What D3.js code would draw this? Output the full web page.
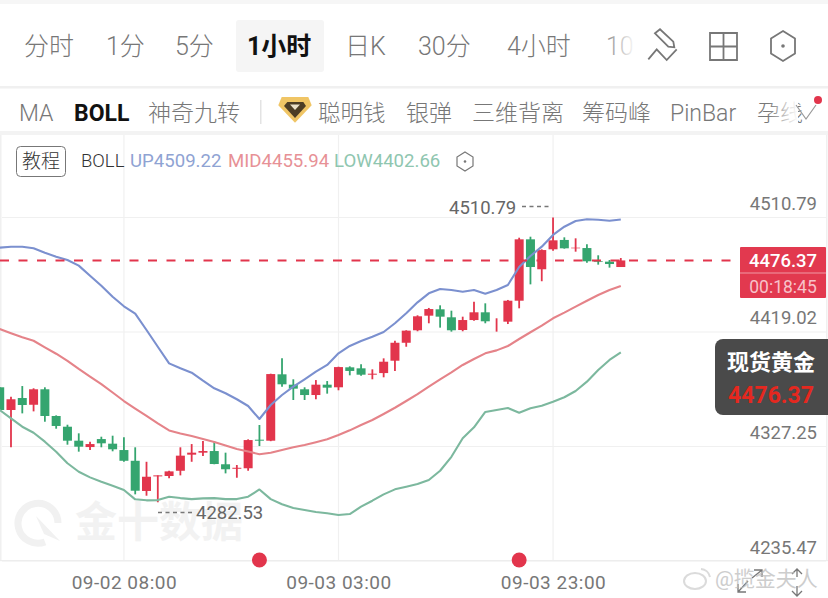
<!DOCTYPE html>
<html><head><meta charset="utf-8">
<script src="https://cdnjs.cloudflare.com/ajax/libs/d3/7.8.5/d3.min.js"></script>
<style>
html,body{margin:0;padding:0;background:#fff;overflow:hidden}
text{font-family:Roboto,"Noto Sans CJK SC",sans-serif}
</style></head><body><svg id="c" width="828" height="598"></svg>
<script>
const opens=[4374.7,4356.5,4366.1,4360.7,4373.1,4351.7,4343.1,4331.9,4326.8,4333.2,4329.5,4324.4,4315.8,4291.6,4303.3,4303.6,4307.8,4320.7,4322.3,4323.6,4313.0,4309.4,4309.8,4332.7,4331.9,4385.1,4376.8,4373.1,4368.5,4376.8,4374.7,4390.7,4389.9,4384.8,4386.1,4396.0,4410.4,4420.4,4432.1,4437.2,4430.8,4420.6,4428.6,4434.8,4425.0,4427.3,4444.1,4493.3,4469.3,4485.3,4492.8,4486.1,4486.3,4475.7,4475.4,4471.1];
const highs=[4374.9,4367.1,4375.7,4373.9,4374.7,4352.2,4344.7,4337.8,4331.1,4335.1,4335.9,4334.6,4326.6,4315.0,4304.1,4307.8,4326.6,4329.2,4331.6,4331.6,4322.3,4312.4,4333.0,4344.5,4385.6,4397.9,4381.1,4374.7,4380.5,4379.7,4391.2,4391.5,4393.1,4389.1,4397.9,4412.0,4420.4,4432.4,4438.3,4440.4,4436.1,4431.3,4443.3,4442.0,4430.0,4444.7,4494.6,4495.4,4485.3,4510.79,4494.9,4494.1,4489.3,4480.5,4476.7,4478.3];
const lows=[4356.5,4326.6,4353.8,4355.4,4347.1,4341.5,4328.7,4323.1,4324.4,4326.6,4323.4,4315.0,4288.9,4287.8,4282.53,4301.7,4304.1,4315.0,4319.6,4313.0,4305.7,4302.2,4307.8,4327.6,4331.5,4375.2,4364.5,4364.5,4365.1,4369.6,4372.3,4384.3,4384.0,4381.1,4382.7,4387.8,4407.2,4419.6,4426.0,4422.5,4419.3,4419.6,4428.1,4426.0,4419.3,4425.4,4438.0,4457.2,4459.7,4484.2,4485.8,4483.4,4474.6,4473.0,4470.6,4471.1];
const closes=[4356.5,4365.1,4360.5,4373.1,4351.7,4343.7,4331.9,4327.1,4329.2,4329.8,4325.0,4315.8,4291.8,4303.0,4304.1,4307.3,4319.9,4322.3,4323.6,4313.2,4309.0,4310.2,4332.4,4331.9,4385.3,4377.1,4373.6,4368.5,4376.8,4374.4,4390.9,4387.8,4384.8,4385.6,4395.2,4410.4,4420.1,4431.6,4437.4,4431.3,4420.4,4428.6,4434.8,4427.6,4425.0,4444.1,4493.3,4471.1,4484.7,4492.5,4486.1,4486.6,4475.7,4475.1,4473.5,4476.37];
const bollUp=[4486.6,4487.4,4487.4,4486.1,4482.6,4479.4,4476.7,4472.2,4464.1,4456.1,4447.3,4439.6,4433.7,4420.6,4407.2,4393.9,4389.9,4386.4,4380.0,4373.9,4369.9,4365.1,4359.7,4349.3,4360.5,4368.5,4375.2,4381.1,4387.2,4392.6,4401.9,4407.8,4411.8,4415.2,4419.0,4426.0,4434.0,4442.8,4450.0,4453.5,4452.7,4451.3,4452.7,4449.7,4452.7,4456.7,4471.1,4479.9,4487.4,4496.8,4503.4,4508.0,4509.4,4509.0,4508.2,4509.22];
const bollMid=[4421.4,4418.0,4414.8,4412.0,4406.7,4401.6,4395.8,4389.4,4383.3,4377.3,4370.5,4363.7,4357.7,4351.7,4345.7,4340.1,4337.7,4335.6,4333.2,4330.8,4328.0,4325.2,4323.2,4321.0,4322.3,4324.4,4326.6,4328.4,4330.6,4333.0,4336.4,4340.2,4344.5,4348.5,4353.3,4358.3,4363.7,4369.3,4375.2,4381.1,4386.7,4392.6,4397.4,4401.9,4404.3,4407.8,4413.4,4418.8,4424.1,4430.0,4434.5,4439.3,4444.1,4448.7,4452.7,4455.94];
const bollLow=[4356.5,4349.8,4343.1,4338.3,4331.1,4323.1,4313.8,4307.0,4302.5,4299.0,4295.8,4292.4,4284.9,4284.1,4284.3,4287.0,4285.9,4285.1,4285.7,4285.9,4285.1,4285.1,4287.0,4292.8,4285.1,4280.9,4277.9,4276.3,4274.7,4273.7,4272.3,4273.1,4279.0,4283.8,4288.9,4292.9,4295.0,4297.2,4300.4,4307.8,4319.0,4333.8,4342.6,4354.9,4356.5,4358.1,4354.3,4357.9,4359.9,4363.1,4366.7,4371.7,4379.2,4388.6,4396.6,4402.66];
const priceTicks=[4510.79,4419.02,4327.25,4235.47];
const timeIdx=[11,30,49];
const timeLabels=["09-02 08:00","09-03 03:00","09-03 23:00"];
const markerIdx=[23,46];
const lastPrice=4476.37, maxPrice=4510.79, minPrice=4282.53;
const tabs=["分时","1分","5分","1小时","日K","30分","4小时","10"];
const tabX=[24,106,175,247,345,418,507,606];
const indicators=["MA","BOLL","神奇九转","聪明钱","银弹","三维背离","筹码峰","PinBar","孕线"];
const indicatorX=[19,74,148,318,406,472,582,670,757];

const svg=d3.select("#c");
const defs=svg.append("defs");
const grad=defs.append("linearGradient").attr("id","fade");
grad.append("stop").attr("offset","0").attr("stop-color","#fff").attr("stop-opacity",0);
grad.append("stop").attr("offset","1").attr("stop-color","#fff").attr("stop-opacity",1);

const x=d3.scaleLinear().domain([0,55]).range([-0.3,620.8]);
const y=d3.scaleLinear().domain([4235.47,4510.79]).range([561,217.5]);

// page chrome
svg.append("rect").attr("width",828).attr("height",4).attr("fill","#f6f6f6");
svg.append("rect").attr("x",236).attr("y",20).attr("width",88).attr("height",52).attr("rx",3).attr("fill","#f5f5f5");
svg.append("g").selectAll("text").data(tabs).join("text")
  .attr("x",(d,i)=>tabX[i]).attr("y",55).attr("font-size",25)
  .attr("font-weight",(d,i)=>i===3?700:300)
  .attr("fill",(d,i)=>i===3?"#111":"#777").text(d=>d);
svg.append("rect").attr("x",600).attr("y",25).attr("width",36).attr("height",42).attr("fill","url(#fade)");
const ic=svg.append("g").attr("fill","none").attr("stroke","#777").attr("stroke-width",1.8);
ic.append("path").attr("d","M655 33.300 L660 29.300 L673.300 41.700 L674.300 47.300 L668.300 46.700 Z M648.300 59.300 L656.700 49.300 L666.700 60 L676.700 49.300");
ic.append("path").attr("d","M710 33 H737 V60 H710 Z M723.500 33 V60 M710 46.500 H737");
ic.append("path").attr("d","M783 31 L795 38.500 V53.500 L783 61 L771 53.500 V38.500 Z");
svg.append("circle").attr("cx",783).attr("cy",46).attr("r",1.8).attr("fill","#777");
svg.append("rect").attr("y",86).attr("width",828).attr("height",2.5).attr("fill","#f0f0f0");
svg.append("rect").attr("y",131).attr("width",828).attr("height",4).attr("fill","#f3f3f3");

svg.append("g").selectAll("text").data(indicators).join("text")
  .attr("x",(d,i)=>indicatorX[i]).attr("y",121).attr("font-size",(d,i)=>i===3?22.500:23)
  .attr("font-weight",(d,i)=>i===1?700:300)
  .attr("fill",(d,i)=>i===1?"#111":"#777").text(d=>d);
svg.append("rect").attr("x",768).attr("y",95).attr("width",30).attr("height",34).attr("fill","url(#fade)");
svg.append("path").attr("d","M796 105 L806 119 L816 105").attr("fill","none").attr("stroke","#999").attr("stroke-width",1.2);
svg.append("circle").attr("cx",818).attr("cy",100).attr("r",4).attr("fill","#e2354c");
svg.append("rect").attr("x",260).attr("y",100).attr("width",1.5).attr("height",24).attr("fill","#e3e3e3");
svg.append("path").attr("d","M281.700 97 L308.300 97 L311.700 105.300 L295 122.700 L278.300 105.300 Z").attr("fill","#f0c565");
svg.append("path").attr("d","M287.300 102 L303.300 102 L306 106 L295 118 L284 106 Z").attr("fill","#4d3d25");
svg.append("path").attr("d","M290 104.500 L300 104.500 L295 110 Z").attr("fill","#eadfc8");

// grid
const grid=svg.append("g").attr("fill","none").attr("stroke","#f0f0f0").attr("stroke-width",1.2);
grid.selectAll("line.h").data(priceTicks).join("line").attr("class","h")
  .attr("x1",2).attr("x2",826).attr("y1",d=>y(d)).attr("y2",d=>y(d));
grid.selectAll("line.v").data(timeIdx).join("line").attr("class","v")
  .attr("x1",d=>x(d)).attr("x2",d=>x(d)).attr("y1",135).attr("y2",561);
svg.append("rect").attr("x",0).attr("y",135).attr("width",1.5).attr("height",426).attr("fill","#f0f0f0");
svg.append("rect").attr("x",826).attr("y",135).attr("width",1.5).attr("height",426).attr("fill","#f0f0f0");

// watermark
const wm=svg.append("g");
wm.append("path").attr("d","M45 542 A20 20 0 1 1 58 523").attr("fill","none").attr("stroke","#f1f1f1").attr("stroke-width",7);
wm.append("path").attr("d","M36 516 L60 541 L44 534 Z").attr("fill","#f1f1f1");
wm.append("text").attr("x",75).attr("y",537).attr("font-size",42).attr("font-weight",700).attr("fill","#f2f2f2").text("金十数据");

// Legend
svg.append("rect").attr("x",16.500).attr("y",146.500).attr("width",49).attr("height",30).attr("rx",4).attr("fill","#fff").attr("stroke","#777");
svg.append("text").attr("x",41).attr("y",168).attr("text-anchor","middle").attr("font-size",19).attr("font-weight",300).attr("fill","#333").text("教程");
svg.append("text").attr("x",81).attr("y",167).attr("font-size",18.500).attr("font-weight",300).attr("fill","#333").text("BOLL");
svg.append("text").attr("x",130).attr("y",167).attr("font-size",18.600).attr("fill","#8fa3d3").text("UP4509.22");
svg.append("text").attr("x",228).attr("y",167).attr("font-size",18.600).attr("fill","#e79196").text("MID4455.94");
svg.append("text").attr("x",334).attr("y",167).attr("font-size",18.600).attr("fill","#8fc6b0").text("LOW4402.66");
svg.append("path").attr("d","M465 152 L473 157 L473 166 L465 171 L457 166 L457 157 Z").attr("fill","none").attr("stroke","#777").attr("stroke-width",1.2);
svg.append("circle").attr("cx",465).attr("cy",161.500).attr("r",1.3).attr("fill","#777");

// Axes
const yAxis=d3.axisRight(y).tickValues(priceTicks).tickFormat(d3.format(".2f")).tickSize(0);
const yg=svg.append("g").call(yAxis);
yg.select(".domain").remove();
yg.selectAll("text").attr("x",817).attr("dy",-8).attr("text-anchor","end")
  .attr("font-size",18.500).attr("fill","#777").style("font-family","Roboto");
const xAxis=d3.axisBottom(x).tickValues(timeIdx).tickFormat((d,i)=>timeLabels[i]).tickSize(0);
const xg=svg.append("g").attr("transform","translate(0,561)").call(xAxis);
xg.select(".domain").remove();
xg.selectAll("text").attr("y",28).attr("dy","0").attr("font-size",19).attr("letter-spacing",0.5).attr("fill","#777").style("font-family","Roboto");

// Bollinger
const idx=d3.range(opens.length);
const lineFor=a=>d3.line().x(i=>x(i)).y(i=>y(a[i]))(idx);

// Candles
const UP="#e2354c",DOWN="#35a56f";
const col=i=>closes[i]>=opens[i]?UP:DOWN;
const cg=svg.append("g");
cg.selectAll("line").data(idx).join("line")
  .attr("x1",i=>x(i)).attr("x2",i=>x(i))
  .attr("y1",i=>y(highs[i])).attr("y2",i=>y(lows[i]))
  .attr("stroke",col).attr("stroke-width",1.8);
cg.selectAll("rect").data(idx).join("rect")
  .attr("x",i=>x(i)-4.500).attr("width",9)
  .attr("y",i=>y(Math.max(opens[i],closes[i])))
  .attr("height",i=>Math.abs(y(opens[i])-y(closes[i])))
  .attr("fill",col);

[[bollUp,"#7b90cf"],[bollMid,"#e58389"],[bollLow,"#7cb89e"]].forEach(([a,c])=>{
  svg.append("path").attr("d",lineFor(a)).attr("fill","none").attr("stroke",c).attr("stroke-width",2.1).attr("stroke-linejoin","round");
});

// last price
svg.append("line").attr("x1",0).attr("x2",740).attr("y1",y(lastPrice)).attr("y2",y(lastPrice))
  .attr("stroke","#e2354c").attr("stroke-width",2).attr("stroke-dasharray","9 9.500");
svg.append("rect").attr("x",740).attr("y",247).attr("width",86).attr("height",51).attr("rx",1).attr("fill","#e2394f");
svg.append("rect").attr("x",740).attr("y",272.500).attr("width",86).attr("height",1).attr("fill","#f09aa5");
svg.append("text").attr("x",783).attr("y",267).attr("text-anchor","middle").attr("font-size",18.500).attr("font-weight",500).attr("fill","#fff").text(d3.format(".2f")(lastPrice));
svg.append("text").attr("x",783).attr("y",293).attr("text-anchor","middle").attr("font-size",17.500).attr("fill","#f7c3ca").text("00:18:45");

// Max/min
svg.append("text").attr("x",449).attr("y",214).attr("font-size",18.500).attr("fill","#666").text(d3.format(".2f")(maxPrice));
svg.append("line").attr("x1",522).attr("x2",550).attr("y1",206.500).attr("y2",206.500).attr("stroke","#777").attr("stroke-width",1.4).attr("stroke-dasharray","4 3.500");
svg.append("line").attr("x1",158).attr("x2",195).attr("y1",512.500).attr("y2",512.500).attr("stroke","#777").attr("stroke-width",1.4).attr("stroke-dasharray","4 3.500");
svg.append("text").attr("x",196).attr("y",519).attr("font-size",18.500).attr("fill","#666").text(d3.format(".2f")(minPrice));

// x axis line and event markers
svg.append("rect").attr("x",0).attr("y",560).attr("width",828).attr("height",1.2).attr("fill","#ededed");
svg.append("g").selectAll("circle").data(markerIdx).join("circle")
  .attr("cx",i=>x(i)).attr("cy",560).attr("r",7.500).attr("fill","#e2354c");

// card
svg.append("path").attr("d","M828 339 H723 A8 8 0 0 0 715 347 V407 A8 8 0 0 0 723 415 H828 Z").attr("fill","#4a4a4a");
svg.append("text").attr("x",771).attr("y",370).attr("text-anchor","middle").attr("font-size",22).attr("font-weight",700).attr("fill","#fff").text("现货黄金");
svg.append("text").attr("x",771).attr("y",403).attr("text-anchor","middle").attr("font-size",23).attr("font-weight",700).attr("fill","#e5281f").text(d3.format(".2f")(lastPrice));

// bottom-right
const br=svg.append("g").attr("fill","none").attr("stroke","#777").attr("stroke-width",1.3);
br.append("path").attr("d","M738 592 L748 581 M738 584 V592 H746 M752 578 L762 570 M754 570 H762 V577");
br.append("path").attr("d","M797 577 V570 M792 574 L797 569 L802 574 M797 586 V595 M792 591 L797 596 L802 591");
const wb=svg.append("g").attr("opacity",0.75);
wb.append("ellipse").attr("cx",695).attr("cy",581).attr("rx",11).attr("ry",8).attr("fill","none").attr("stroke","#cfcfcf").attr("stroke-width",2);
wb.append("path").attr("d","M701 569 A10 10 0 0 1 710 577").attr("fill","none").attr("stroke","#cfcfcf").attr("stroke-width",2);
wb.append("text").attr("x",715).attr("y",586).attr("font-size",21).attr("fill","#bdbdbd").text("@揽金夫人");
</script></body></html>
